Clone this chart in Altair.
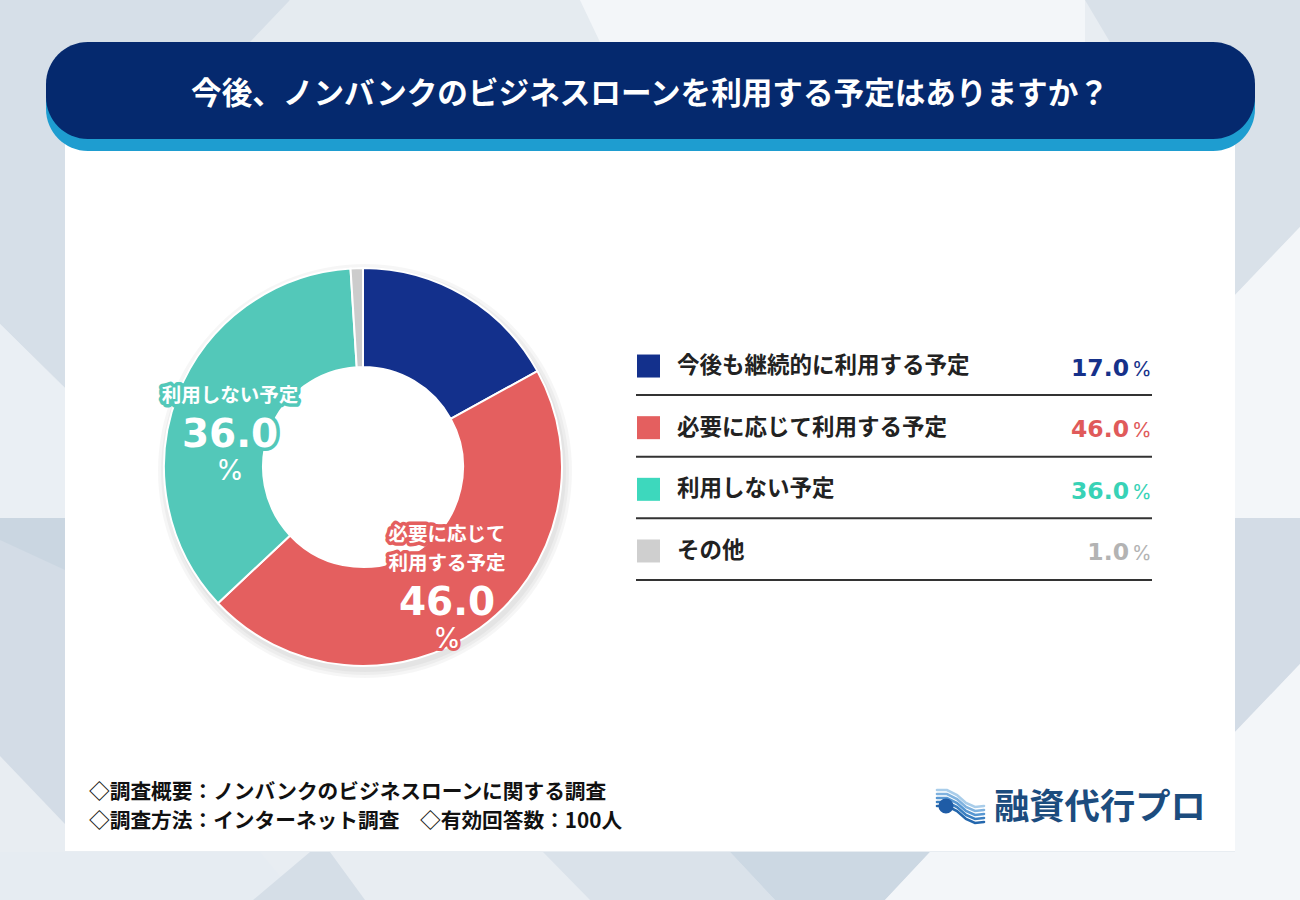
import altair as alt
import pandas as pd

# ---------------- data ----------------
categories = ["今後も継続的に利用する予定", "必要に応じて利用する予定", "利用しない予定", "その他"]
values = [17.0, 46.0, 36.0, 1.0]
donut_labels = ["", "必要に応じて\n利用する予定", "利用しない予定", ""]

slice_colors = ["#13308c", "#e45f5f", "#53c8b9", "#cccccc"]
legend_colors = ["#13308c", "#e45f5f", "#3dd8bd", "#cfcfcf"]
value_colors = ["#16318a", "#e05a5a", "#38d2b6", "#b3b3b3"]

title_text = "今後、ノンバンクのビジネスローンを利用する予定はありますか？"
footer_lines = ["◇調査概要：ノンバンクのビジネスローンに関する調査",
                "◇調査方法：インターネット調査　◇有効回答数：100人"]
brand = "融資代行プロ"

JP = "Noto Sans CJK JP"
NUM = "DejaVu Sans"
PCT = "Inter"

parts = [l.split("\n") if l else [] for l in donut_labels]
df = pd.DataFrame({
    "idx": list(range(len(categories))),
    "cat": categories,
    "value": values,
    "dl1": [p[0] if len(p) > 1 else "" for p in parts],
    "dl2": [p[-1] if p else "" for p in parts],
    "dvalue": [f"{v:.1f}" if l else "" for v, l in zip(values, donut_labels)],
    "dpct": ["%" if l else "" for l in donut_labels],
})
one = pd.DataFrame({"k": [0]})

CX, CY = 363, 467

# ---------------- decorative background ----------------
def poly(pts, fill):
    ring = [list(p) for p in pts] + [list(pts[0])]
    return {"type": "Feature", "properties": {"fill": fill},
            "geometry": {"type": "Polygon", "coordinates": [ring]}}

bg_features = [
    poly([(0, 0), (290, 0), (240, 100), (65, 388), (0, 324)], "#d6dfe8"),
    poly([(290, 0), (580, 0), (600, 42), (250, 42)], "#e5ebf0"),
    poly([(580, 0), (1085, 0), (1085, 42), (600, 42)], "#f3f6f9"),
    poly([(1085, 0), (1300, 0), (1300, 227), (1235, 295), (1180, 160)], "#d9e1e9"),
    poly([(0, 324), (65, 388), (65, 518), (0, 518)], "#eaeff4"),
    poly([(0, 518), (65, 518), (65, 824), (0, 756)], "#d3dce6"),
    poly([(0, 518), (65, 518), (65, 570), (0, 540)], "#cad6e1"),
    poly([(1235, 295), (1300, 227), (1300, 518), (1235, 518)], "#f3f6f9"),
    poly([(1235, 518), (1300, 518), (1300, 664), (1235, 732)], "#d3dce6"),
    poly([(1235, 732), (1300, 664), (1300, 900), (1235, 900)], "#f3f6f9"),
    poly([(0, 852), (260, 852), (300, 900), (0, 900)], "#e6ecf2"),
    poly([(310, 852), (330, 852), (365, 900), (253, 900)], "#d5dee7"),
    poly([(543, 852), (730, 852), (775, 900), (590, 900)], "#dae2ea"),
    poly([(730, 852), (930, 852), (885, 900), (775, 900)], "#ccd8e3"),
    poly([(930, 852), (1300, 852), (1300, 900), (885, 900)], "#f3f6f9"),
]

bg = alt.Chart(alt.Data(values=bg_features)).mark_geoshape(strokeWidth=0).encode(
    fill=alt.Fill("properties.fill:N", scale=None)
).project(type="identity", scale=1, translate=[0, 0])

# card
card = alt.Chart(one).mark_rect(color="white").encode(
    x=alt.value(65), x2=alt.value(1235), y=alt.value(100), y2=alt.value(851))

# banner
banner_shadow = alt.Chart(one).mark_rect(color="#1e9dd0", cornerRadius=42).encode(
    x=alt.value(46), x2=alt.value(1255), y=alt.value(54), y2=alt.value(151))
banner = alt.Chart(one).mark_rect(color="#05296e", cornerRadius=42).encode(
    x=alt.value(46), x2=alt.value(1255), y=alt.value(42), y2=alt.value(139))
title = alt.Chart(one).mark_text(font=JP, fontWeight="bold", fontSize=30.6, color="white",
                                 align="center", baseline="middle").encode(
    x=alt.value(650), y=alt.value(95), text=alt.value(title_text))

# ---------------- donut ----------------
theta = alt.Theta("value:Q", stack=True)
order = alt.Order("idx:Q", sort="ascending")

shadows = [
    alt.Chart(one).mark_arc(theta=0, theta2=6.2832, outerRadius=r, innerRadius=130,
                            color="#000000", opacity=0.035).encode(
        x=alt.value(CX + 2), y=alt.value(CY + 4))
    for r in (207, 204, 201)
]

donut = alt.Chart(df).mark_arc(innerRadius=100, outerRadius=199, stroke="white",
                               strokeWidth=2).encode(
    theta=theta, order=order,
    color=alt.Color("cat:N", scale=alt.Scale(domain=categories, range=slice_colors), legend=None),
    x=alt.value(CX), y=alt.value(CY))

lab_enc = dict(theta=theta, order=order, detail="cat:N", x=alt.value(CX), y=alt.value(CY))
seg_stroke = alt.Stroke("cat:N", scale=alt.Scale(domain=categories, range=slice_colors), legend=None)

R = 143


def label_pair(field, dy, font, size, weight, halo_w):
    halo = alt.Chart(df).mark_text(radius=R, dy=dy, font=font, fontWeight=weight, fontSize=size,
                                   baseline="middle", align="center", strokeWidth=halo_w,
                                   strokeJoin="round").encode(
        text=f"{field}:N", stroke=seg_stroke, **lab_enc)
    txt = alt.Chart(df).mark_text(radius=R, dy=dy, font=font, fontWeight=weight, fontSize=size,
                                  baseline="middle", align="center", color="white").encode(
        text=f"{field}:N", **lab_enc)
    return [halo, txt]


donut_text = (
    label_pair("dl1", -48, JP, 19.5, "bold", 7)
    + label_pair("dl2", -18.5, JP, 19.5, "bold", 7)
    + label_pair("dvalue", 20.5, NUM, 39, "bold", 7)
    + label_pair("dpct", 57.8, PCT, 28, "normal", 6)
)

# ---------------- legend table ----------------
ypos = alt.Y("cat:N", scale=alt.Scale(domain=categories, range=[335.2, 581.8]), axis=None)

leg_sq = alt.Chart(df).mark_square(size=529, opacity=1).encode(
    y=ypos, x=alt.value(648.5),
    fill=alt.Fill("cat:N", scale=alt.Scale(domain=categories, range=legend_colors), legend=None))
leg_rule = alt.Chart(df).mark_rule(strokeWidth=2, color="#333333", yOffset=29).encode(
    y=ypos, x=alt.value(636), x2=alt.value(1152))
leg_lab = alt.Chart(df).mark_text(font=JP, fontWeight="bold", fontSize=22.5, color="#222222",
                                  align="left", baseline="middle").encode(
    y=ypos, x=alt.value(677), text="cat:N")
leg_val = alt.Chart(df).mark_text(font=NUM, fontWeight="bold", fontSize=23.5, align="right",
                                  baseline="alphabetic", dy=9.5).encode(
    y=ypos, x=alt.value(1129), text=alt.Text("value:Q", format=".1f"),
    color=alt.Color("cat:N", scale=alt.Scale(domain=categories, range=value_colors), legend=None))
leg_pct = alt.Chart(df).mark_text(font=PCT, fontSize=20, align="left",
                                  baseline="alphabetic", dy=9.5).encode(
    y=ypos, x=alt.value(1132), text=alt.value("%"),
    color=alt.Color("cat:N", scale=alt.Scale(domain=categories, range=value_colors), legend=None))

# ---------------- footer ----------------
foot1 = alt.Chart(one).mark_text(font=JP, fontWeight="bold", fontSize=20.7, color="#111111",
                                 align="left", baseline="middle").encode(
    x=alt.value(89), y=alt.value(793), text=alt.value(footer_lines[0]))
foot2 = alt.Chart(one).mark_text(font=JP, fontWeight="bold", fontSize=20.7, color="#111111",
                                 align="left", baseline="middle").encode(
    x=alt.value(89), y=alt.value(822), text=alt.value(footer_lines[1]))

# logo
def line(pts, col):
    return {"type": "Feature", "properties": {"c": col},
            "geometry": {"type": "LineString", "coordinates": [list(p) for p in pts]}}

stripe_cols = ["#a9cdea", "#7fb2df", "#5797d2", "#3a7fc1", "#2467ad"]
logo_lines = [
    line([(937, 790 + 4 * k), (947, 790 + 4 * k), (957, 795 + 4 * k), (966, 803 + 4 * k),
          (975, 807 + 4 * k), (984, 806 + 4 * k)], c)
    for k, c in enumerate(stripe_cols)
]
logo_icon = alt.Chart(alt.Data(values=logo_lines)).mark_geoshape(
    filled=False, strokeWidth=2.6, strokeCap="round").encode(
    stroke=alt.Stroke("properties.c:N", scale=None)
).project(type="identity", scale=1, translate=[0, 0])
logo_dot = alt.Chart(one).mark_circle(size=230, opacity=1, color="#1f5ca6").encode(
    x=alt.value(946), y=alt.value(806))
logo_txt = alt.Chart(one).mark_text(font=JP, fontWeight="bold", fontSize=35.3, color="#1c4c7e",
                                    align="left", baseline="middle").encode(
    x=alt.value(994), y=alt.value(808), text=alt.value(brand))

chart = alt.layer(
    bg, card, banner_shadow, banner, title,
    *shadows, donut,
    *donut_text,
    leg_sq, leg_rule, leg_lab, leg_val, leg_pct,
    foot1, foot2, logo_icon, logo_dot, logo_txt,
).resolve_scale(
    color="independent", fill="independent", stroke="independent"
).properties(
    width=1300, height=900, padding=0,
    autosize=alt.AutoSizeParams(type="none"),
).configure(background="#e8edf2").configure_view(strokeWidth=0)

chart.save("out.html", embed_options={"renderer": "svg", "actions": False})
